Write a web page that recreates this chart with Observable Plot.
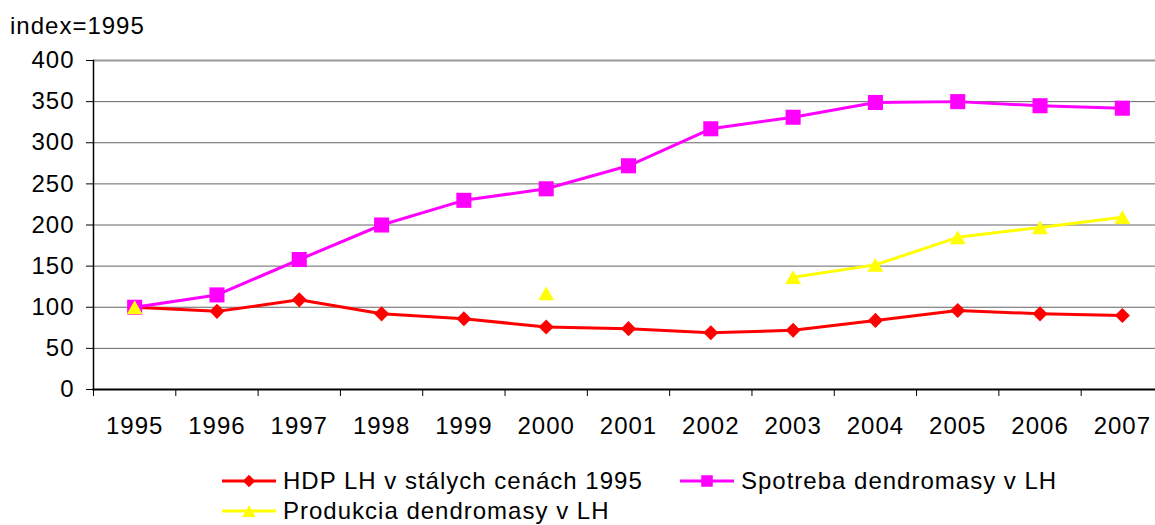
<!DOCTYPE html>
<html>
<head>
<meta charset="utf-8">
<script src="https://cdn.jsdelivr.net/npm/d3@7"></script>
<script src="https://cdn.jsdelivr.net/npm/@observablehq/plot@0.6"></script>
<style>
  html, body { margin: 0; padding: 0; background: #fff; overflow: hidden; }
  body { width: 1155px; height: 525px; position: relative; font-family: "Liberation Sans", Arial, sans-serif; color: #000; }
  #head { position: absolute; left: 10px; top: 14px; font-size: 24px; line-height: 24px; letter-spacing: 1px; }
  #chart { position: absolute; left: 0; top: 45px; }
  #chart svg { max-width: none !important; }
  .leg { position: absolute; display: flex; align-items: center; font-size: 24px; line-height: 24px; letter-spacing: 1px; white-space: nowrap; }
  .leg svg { margin-right: 7px; }
</style>
</head>
<body>
<div id="head">index=1995</div>
<div id="chart"></div>
<div id="legend"></div>
<script>
// ---- data ----
const years = [1995, 1996, 1997, 1998, 1999, 2000, 2001, 2002, 2003, 2004, 2005, 2006, 2007];
const hdp = [100, 95, 109, 92, 86, 76, 74, 69, 72, 84, 96, 92, 90];
const spotreba = [100, 115, 158, 200, 230, 244, 272, 317, 331, 349, 350, 345, 342];
const produkcia = [100, null, null, null, null, 117, null, null, 136.5, 151.5, 185, 197, 209.5];
const yTicks = [0, 50, 100, 150, 200, 250, 300, 350, 400];
const seriesNames = ["HDP LH v stálych cenách 1995", "Spotreba dendromasy v LH", "Produkcia dendromasy v LH"];
const seriesColors = ["#FF0000", "#FF00FF", "#FFFF00"];
const seriesSymbols = ["diamond2", "square", "triangle"];

const rows = years.map((year, i) => ({year, hdp: hdp[i], spotreba: spotreba[i], produkcia: produkcia[i]}));
const boundaries = years.map(y => y - 0.5).concat([years[years.length - 1] + 0.5]);

const chart = Plot.plot({
  width: 1164,
  height: 410,
  marginTop: 15,
  marginBottom: 66,
  marginLeft: 93,
  marginRight: 1,
  style: {fontSize: "24px", fontFamily: "'Liberation Sans', Arial, sans-serif", letterSpacing: "1px", color: "#000", background: "#fff", maxWidth: "none"},
  x: {type: "linear", domain: [years[0] - 0.5, years[years.length - 1] + 0.5]},
  y: {domain: [0, 400]},
  marks: [
    Plot.ruleY(yTicks.filter(d => d > 0 && d < 400), {stroke: "#666", strokeWidth: 1}),
    Plot.ruleY([400], {stroke: "#999", strokeWidth: 2}),
    Plot.frame({anchor: "left", stroke: "#000", strokeWidth: 1.5}),
    Plot.frame({anchor: "bottom", stroke: "#000", strokeWidth: 2}),
    Plot.axisY(yTicks, {tickSize: 7, tickPadding: 12, tickFormat: d => String(d), label: null}),
    Plot.axisX(boundaries, {tickSize: 7, tickFormat: () => "", label: null}),
    Plot.axisX(years, {tickSize: 0, tickPadding: 27, tickFormat: d => String(d), label: null}),
    Plot.line(rows, {x: "year", y: "hdp", stroke: seriesColors[0], strokeWidth: 3}),
    Plot.dot(rows, {x: "year", y: "hdp", symbol: seriesSymbols[0], r: 6.8, fill: seriesColors[0], stroke: "none"}),
    Plot.line(rows, {x: "year", y: "spotreba", stroke: seriesColors[1], strokeWidth: 3}),
    Plot.dot(rows, {x: "year", y: "spotreba", symbol: seriesSymbols[1], r: 8.5, fill: seriesColors[1], stroke: "none"}),
    Plot.line(rows, {x: "year", y: "produkcia", stroke: seriesColors[2], strokeWidth: 3}),
    Plot.dot(rows, {x: "year", y: "produkcia", symbol: seriesSymbols[2], r: 5.9, dy: 2.3, fill: seriesColors[2], stroke: "none"})
  ]
});
document.getElementById("chart").appendChild(chart);

// ---- legend (HTML below the chart) ----
const legendPos = [{left: 222, top: 469}, {left: 680, top: 469}, {left: 222, top: 499}];
const legendR = [5.6, 6.5, 5.0];
const symbolMap = {diamond2: d3.symbolDiamond2, square: d3.symbolSquare, triangle: d3.symbolTriangle};
const legend = document.getElementById("legend");
seriesNames.forEach((name, i) => {
  const div = document.createElement("div");
  div.className = "leg";
  div.style.left = legendPos[i].left + "px";
  div.style.top = legendPos[i].top + "px";
  const r = legendR[i];
  const path = d3.symbol(symbolMap[seriesSymbols[i]], Math.PI * r * r)();
  const dy = seriesSymbols[i] === "triangle" ? 2 : 0;
  div.innerHTML = `<svg width="54" height="22"><line x1="0" x2="54" y1="11" y2="11" stroke="${seriesColors[i]}" stroke-width="3"/><path d="${path}" transform="translate(27,${11 + dy})" fill="${seriesColors[i]}"/></svg><span>${name}</span>`;
  legend.appendChild(div);
});
</script>
</body>
</html>
